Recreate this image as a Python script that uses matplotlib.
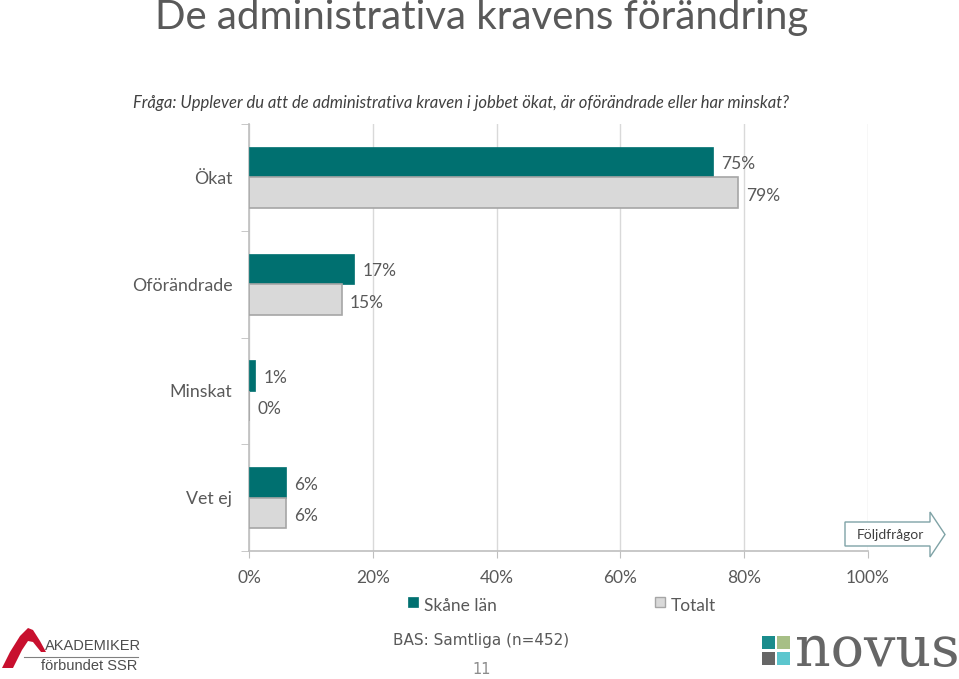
import matplotlib
matplotlib.use("Agg")
import matplotlib.pyplot as plt
from matplotlib.patches import Rectangle, Polygon

# Data
categories = ["Ökat", "Oförändrade", "Minskat", "Vet ej"]
skane = [75, 17, 1, 6]
totalt = [79, 15, 0, 6]
series_names = ["Skåne län", "Totalt"]
xticks = [0, 20, 40, 60, 80, 100]

title = "De administrativa kravens förändring"
question = "Fråga: Upplever du att de administrativa kraven i jobbet ökat, är oförändrade eller har minskat?"
base_note = "BAS: Samtliga (n=452)"
page_no = "11"

teal = "#007070"
light = "#D9D9D9"
text_col = "#595959"
axis_col = "#BFBFBF"

W, H = 959, 679
plt.rcParams['font.family'] = ['Lato', 'DejaVu Sans']

fig = plt.figure(figsize=(W / 100, H / 100), dpi=100)


def fx(px):
    return px / W


def fy(py):
    return 1 - py / H


ax = fig.add_axes([fx(249), fy(551), fx(868 - 249), (551 - 124) / H])

bh = 0.285
ypos = list(range(len(categories)))
ax.barh([y - bh / 2 for y in ypos], skane, height=bh, color=teal, edgecolor=teal, linewidth=0.5, zorder=3)
ax.barh([y + bh / 2 for y in ypos], totalt, height=bh, color=light, edgecolor="#A6A6A6", linewidth=1.2, zorder=3)

for y, v in zip(ypos, skane):
    ax.text(v + 1.3, y - bh / 2 + 0.02, f"{v}%", va="center", ha="left", fontsize=12.5, color=text_col)
for y, v in zip(ypos, totalt):
    ax.text(v + 1.3, y + bh / 2 + 0.03, f"{v}%", va="center", ha="left", fontsize=12.5, color=text_col)

ax.set_xlim(0, 100)
ax.set_ylim(len(categories) - 0.5, -0.5)
ax.set_xticks(xticks)
ax.set_xticklabels([f"{t}%" for t in xticks], fontsize=12.5, color=text_col)
ax.set_yticks(ypos)
ax.set_yticklabels(categories, fontsize=12.8, color=text_col)
ax.tick_params(axis="y", length=0, pad=12)
ax.set_yticks([y + 0.5 for y in [-1] + ypos], minor=True)
ax.tick_params(axis="y", which="minor", length=6, color=axis_col)
ax.tick_params(axis="x", length=5, color=axis_col, pad=9)
ax.grid(axis="x", color=light, linewidth=1, zorder=0)
for s in ["top", "right"]:
    ax.spines[s].set_visible(False)
for s in ["left", "bottom"]:
    ax.spines[s].set_color(axis_col)
    ax.spines[s].set_linewidth(1.2)

# Titles
fig.text(fx(155), fy(18), title, fontsize=29, color=text_col, va="center", ha="left")
fig.text(fx(133), fy(103), question, fontsize=12, style="italic", color="#404040", va="center", ha="left")

# Legend
fig.add_artist(Rectangle((fx(408), fy(607)), fx(10), 10 / H, facecolor=teal, edgecolor=teal, lw=0.5))
fig.text(fx(424), fy(606), series_names[0], fontsize=12.5, color=text_col, va="center")
fig.add_artist(Rectangle((fx(655), fy(607)), fx(10), 10 / H, facecolor=light, edgecolor="#A6A6A6", lw=1))
fig.text(fx(671), fy(606), series_names[1], fontsize=12.5, color=text_col, va="center")

fig.text(fx(481), fy(641), base_note, fontsize=11, family="DejaVu Sans", color=text_col, va="center", ha="center")
fig.text(fx(482), fy(669), page_no, fontsize=10.5, family="DejaVu Sans", color="#8C8C8C", va="center", ha="center")

# "Följdfrågor" arrow button
arrow_px = [(845, 522), (930, 522), (930, 512), (945, 534.5), (930, 557), (930, 546), (845, 546)]
fig.add_artist(Polygon([(fx(x), fy(y)) for x, y in arrow_px], closed=True, facecolor="white",
                       edgecolor="#7FA3A6", lw=1))
fig.text(fx(890), fy(535), "Följdfrågor", fontsize=10, color="#404040", va="center", ha="center")

# Akademiker logo
swoosh = [(2, 668), (10, 652), (20, 636), (28, 628), (33, 630), (40, 641), (46, 652), (41, 652),
          (33, 642), (28, 641), (22, 650), (13, 668)]
fig.add_artist(Polygon([(fx(x), fy(y)) for x, y in swoosh], closed=True, facecolor="#C8102E", edgecolor="none"))
fig.text(fx(45), fy(646), "AKADEMIKER", fontsize=10.5, family="Liberation Sans", color="#4D4D4D", va="center")
fig.add_artist(plt.Line2D([fx(24), fx(138)], [fy(657), fy(657)], color="#808080", lw=0.8))
fig.text(fx(41), fy(666), "förbundet SSR", fontsize=10.5, family="Liberation Sans", color="#4D4D4D", va="center")

# Novus logo
sq = [((762, 636), "#1A8C8C"), ((777, 636), "#A7BF86"), ((762, 652), "#666666"), ((777, 652), "#5CC6CE")]
for (x, y), c in sq:
    fig.add_artist(Rectangle((fx(x), fy(y + 13)), fx(13), 13 / H, facecolor=c, edgecolor="none"))
fig.text(fx(795), fy(651), "novus", fontsize=40, family="DejaVu Serif", color="#666666", va="center", ha="left")

fig.savefig("out.png", dpi=100)
